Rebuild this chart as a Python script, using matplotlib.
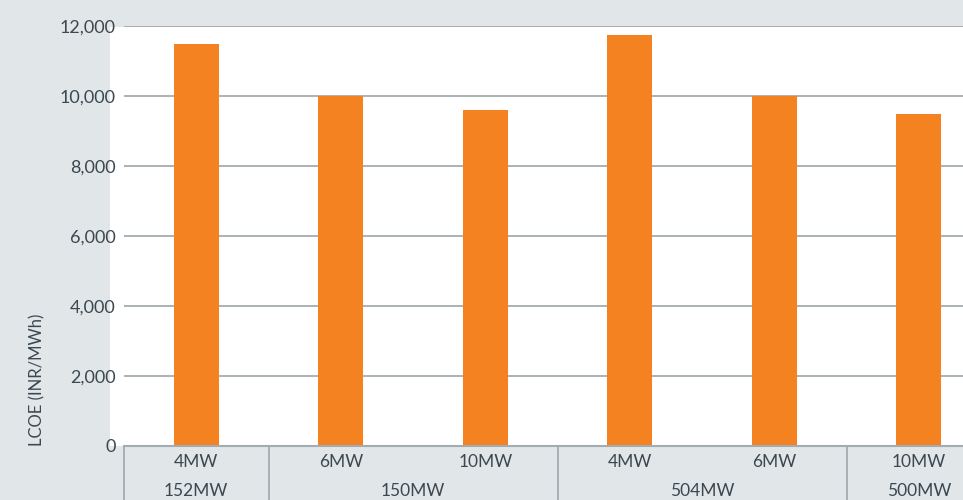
import matplotlib
matplotlib.use('Agg')
import matplotlib.pyplot as plt
import matplotlib.patches as patches
import matplotlib.transforms as mtransforms
import numpy as np

# data
turbines = ['4MW', '6MW', '10MW', '4MW', '6MW', '10MW']
plants = ['152MW', '150MW', '504MW', '500MW']
plant_sizes = [1, 2, 2, 1]
lcoe = [11500, 10000, 9600, 11730, 10000, 9480]
yticks = [0, 2000, 4000, 6000, 8000, 10000, 12000]

bg = '#e1e6e9'
txt = '#3b4850'
line = '#a4acb1'
orange = '#f58220'

plt.rcParams['font.family'] = ['Lato', 'DejaVu Sans']

W, H = 963, 500
fig = plt.figure(figsize=(W / 100, H / 100), dpi=100, facecolor=bg)

ax = fig.add_axes([124 / W, 54 / H, (991 - 124) / W, (446 - 26) / H])
ax.set_facecolor('none')

# white plot panel (starts a bit left of the axes)
ax.add_patch(patches.Rectangle((110 / W, 54 / H), 1, (446 - 27) / H,
                               transform=fig.transFigure, facecolor='white',
                               edgecolor='none', zorder=0, clip_on=False))

x = np.arange(len(turbines))
ax.bar(x, lcoe, width=0.31, color=orange, zorder=3)

ax.set_xlim(-0.5, len(turbines) - 0.5)
ax.set_ylim(0, 12000)
ax.set_yticks(yticks)
ax.set_yticklabels([f'{v:,}' for v in yticks])
ax.grid(axis='y', color=line, linewidth=1.3, zorder=1)
ax.set_axisbelow(True)
for s in ax.spines.values():
    s.set_visible(False)
ax.spines['bottom'].set_visible(True)
ax.spines['bottom'].set_color(line)
ax.spines['bottom'].set_linewidth(1.5)
ax.spines['bottom'].set_zorder(4)

ax.tick_params(axis='y', length=0, pad=6, labelsize=13, labelcolor=txt)
ax.set_xticks(x)
ax.set_xticklabels(turbines)
ax.tick_params(axis='x', length=0, pad=6, labelsize=12.5, labelcolor=txt)

# second row: plant capacity groups, with separators
trans = mtransforms.blended_transform_factory(ax.transData, ax.transAxes)
start = 0
for name, n in zip(plants, plant_sizes):
    center = start + (n - 1) / 2
    ax.text(center, -0.107, name, transform=trans, ha='center', va='center',
            fontsize=12.5, color=txt, clip_on=False)
    ax.plot([start - 0.5, start - 0.5], [0, -0.2], transform=trans, color=line,
            linewidth=1.3, clip_on=False)
    start += n

fig.text(37.5 / W, (500 - 380) / H, 'LCOE (INR/MWh)', rotation=90,
         ha='center', va='center', fontsize=12, color=txt)

fig.savefig('out.png', dpi=100, facecolor=bg)
